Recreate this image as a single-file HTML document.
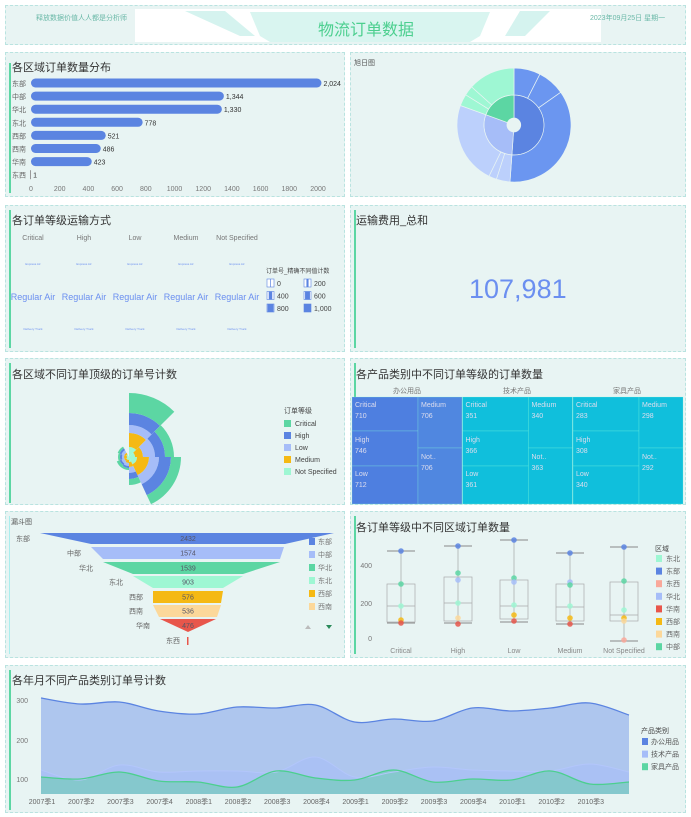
<!DOCTYPE html>
<html><head><meta charset="utf-8"><style>
*{margin:0;padding:0;box-sizing:border-box}
body{width:691px;height:817px;background:#fff;position:relative;overflow:hidden;font-family:"Liberation Sans","Noto Sans CJK SC",sans-serif;color:#444}
.p{position:absolute;background:#e8f4f3;border:1px dashed #b9e3e0}
.acc{position:absolute;left:3px;width:2px;background:#5cd6a3}
.t{position:absolute;font-size:11px;color:#333;white-space:nowrap}
svg{position:absolute;left:0;top:0}
</style></head><body>
<div class="p" style="left:5px;top:5px;width:681px;height:40px"></div>
<div style="position:absolute;left:135px;top:9px;width:466px;height:33px;background:#fff"></div>
<svg width="691" height="817">
<polygon points="250,12 490,12 480,36 470,42 270,42 260,36" fill="#bfeee6" opacity="0.6"/>
<polygon points="185,11 225,11 255,36 240,36" fill="#d5f3ef"/><polygon points="520,11 550,11 525,36 505,36" fill="#d5f3ef"/>
</svg>
<div class="t" style="left:36px;top:13px;font-size:7px;color:#6bb9a8">释放数据价值人人都是分析师</div>
<div class="t" style="left:590px;top:13px;font-size:7px;color:#6bb9a8">2023年09月25日 星期一</div>
<div class="t" style="left:318px;top:16px;font-size:16px;color:#4ccf8f">物流订单数据</div>

<div class="p" style="left:5px;top:52px;width:340px;height:145px"><div class="acc" style="top:10px;height:130px"></div></div>
<div class="p" style="left:350px;top:52px;width:336px;height:145px"></div>
<div class="p" style="left:5px;top:205px;width:340px;height:147px"><div class="acc" style="top:4px;height:138px"></div></div>
<div class="p" style="left:350px;top:205px;width:336px;height:147px"><div class="acc" style="top:4px;height:138px"></div></div>
<div class="p" style="left:5px;top:358px;width:340px;height:147px"><div class="acc" style="top:4px;height:140px"></div></div>
<div class="p" style="left:350px;top:358px;width:336px;height:147px"><div class="acc" style="top:4px;height:140px"></div></div>
<div class="p" style="left:5px;top:511px;width:340px;height:147px"><div class="acc" style="top:4px;height:138px;width:1px;background:#aee"></div></div>
<div class="p" style="left:350px;top:511px;width:336px;height:147px"><div class="acc" style="top:4px;height:138px"></div></div>
<div class="p" style="left:5px;top:665px;width:681px;height:148px"><div class="acc" style="top:4px;height:140px"></div></div>

<div class="t" style="left:12px;top:59px;font-size:11px">各区域订单数量分布</div>
<div class="t" style="left:354px;top:58px;font-size:7px;color:#555">旭日图</div>
<div class="t" style="left:12px;top:212px">各订单等级运输方式</div>
<div class="t" style="left:356px;top:212px">运输费用_总和</div>
<div class="t" style="left:469px;top:274px;font-size:27px;color:#6b8ff0">107,981</div>
<div class="t" style="left:12px;top:366px">各区域不同订单顶级的订单号计数</div>
<div class="t" style="left:356px;top:366px">各产品类别中不同订单等级的订单数量</div>
<div class="t" style="left:11px;top:517px;font-size:7px;color:#555">漏斗图</div>
<div class="t" style="left:356px;top:519px">各订单等级中不同区域订单数量</div>
<div class="t" style="left:12px;top:672px">各年月不同产品类别订单号计数</div>

<svg id="s" width="691" height="817" font-family="Liberation Sans, Noto Sans CJK SC, sans-serif"></svg>
<script>
var s=document.getElementById('s'),h='';
function T(x,y,t,sz,c,a){h+='<text x="'+x+'" y="'+y+'" font-size="'+(sz||7)+'" fill="'+(c||'#666')+'" text-anchor="'+(a||'start')+'">'+t+'</text>';}
function R(x,y,w,ht,c,e){h+='<rect x="'+x+'" y="'+y+'" width="'+w+'" height="'+ht+'" fill="'+c+'" '+(e||'')+'/>';}
var bl=['东部','中部','华北','东北','西部','西南','华南','东西'],bv=[2024,1344,1330,778,521,486,423,1];
bl.forEach(function(l,i){var y=83+i*13.1;T(12,y+3,l,7,'#666');var w=bv[i]*0.1435;if(w>2)R(31,y-4.5,w,9,'#5b84e1','rx="4.5"');else R(30,y-4.5,1,9,'#999');T(33+w,y+3,bv[i]>1?bv[i].toLocaleString():'1',7,'#333');});
for(var i=0;i<=10;i++)T(31+i*28.7,191,i*200,7,'#777','middle');
function arc(cx,cy,r0,r1,a0,a1,c,st){var f=function(r,a){a=(a-90)*Math.PI/180;return (cx+r*Math.cos(a)).toFixed(1)+','+(cy+r*Math.sin(a)).toFixed(1)};var lg=(a1-a0)>180?1:0;
h+='<path d="M'+f(r1,a0)+' A'+r1+','+r1+' 0 '+lg+' 1 '+f(r1,a1)+' L'+f(r0,a1)+' A'+r0+','+r0+' 0 '+lg+' 0 '+f(r0,a0)+'Z" fill="'+c+'" stroke="'+(st||'#e8f4f3')+'" stroke-width="0.7"/>';}
var cx=514,cy=125;
arc(cx,cy,7,30,0,184,'#5b84e1');arc(cx,cy,7,30,184,290,'#a6bdf8');arc(cx,cy,7,30,290,360,'#5cd6a3');
arc(cx,cy,30,57,0,27,'#6b96f0');arc(cx,cy,30,57,27,55,'#6b96f0');arc(cx,cy,30,57,55,184,'#6b96f0');
arc(cx,cy,30,57,184,198,'#bcd0fc');arc(cx,cy,30,57,198,206,'#bcd0fc');arc(cx,cy,30,57,206,290,'#bcd0fc');
arc(cx,cy,30,57,290,302,'#9ef7d3');arc(cx,cy,30,57,302,312,'#9ef7d3');arc(cx,cy,30,57,312,360,'#9ef7d3');
var lv=['Critical','High','Low','Medium','Not Specified'];
lv.forEach(function(l,i){var x=33+i*51;T(x,240,l,7,'#777','middle');T(x,265,'Express Air',3,'#6b8ff0','middle');T(x,300,'Regular Air',9,'#6b8ff0','middle');T(x,330,'Delivery Truck',3,'#6b8ff0','middle');});
T(266,273,'订单号_精确不同值计数',6,'#444');
[['0',0.1],['200',0.3],['400',0.5],['600',0.7],['800',0.85],['1,000',1]].forEach(function(o,i){var x=267+(i%2)*37,y=279+Math.floor(i/2)*12.5;R(x,y,7,8,'#fff','stroke="#5b84e1" stroke-width="0.6"');R(x+3.5-3.5*o[1],y,7*o[1],8,'#5b84e1');T(x+10,y+7,o[0],7,'#444');});
var rc=['#9ef7d3','#f5b914','#a6bdf8','#5b84e1','#5cd6a3'];
var rs=[[10,14,8,12,20],[6,8,12,10,9],[8,12,10,12,10],[5,5,6,6,6],[3,3,3,2,2],[3,2,3,2,3],[2,3,2,2,2],[3,2,3,2,2]];
var ang=[[0,45],[45,90],[90,155],[155,180],[180,215],[215,250],[250,290],[290,330]];
rs.forEach(function(st,i){var r=0;st.forEach(function(v,j){arc(129,457,r,r+v,ang[i][0],ang[i][1],rc[j],'none');r+=v;});});
T(284,413,'订单等级',7,'#444');
['Critical','High','Low','Medium','Not Specified'].forEach(function(l,i){var c=['#5cd6a3','#5b84e1','#a6bdf8','#f5b914','#9ef7d3'][i];R(284,420+i*12,7,7,c);T(295,426+i*12,l,7,'#444');});
['办公用品','技术产品','家具产品'].forEach(function(l,i){T(407+i*110,393,l,7,'#777','middle');var x=352+i*110.5,c=i==0?'#5087e0':'#10bfdc',c2=i==0?'#4e7fe0':'#10bfdc';
var d=[[710,706,746,706,712],[351,340,366,363,361],[283,298,308,292,340]][i];
var st='stroke="#8fd" stroke-opacity="0.4" stroke-width="0.6"';
R(x,397,66,34,c2,st);R(x,431,66,35,c2,st);R(x,466,66,38,c2,st);R(x+66,397,44,51,c,st);R(x+66,448,44,56,c,st);
var tc='#dde';T(x+3,407,'Critical',7,tc);T(x+3,418,d[0],7,tc);T(x+69,407,'Medium',7,tc);T(x+69,418,d[1],7,tc);T(x+3,442,'High',7,tc);T(x+3,453,d[2],7,tc);T(x+69,459,'Not..',7,tc);T(x+69,470,d[3],7,tc);T(x+3,476,'Low',7,tc);T(x+3,487,d[4],7,tc);});
var fr=[[533,544,40,334,91,285,'#5b84e1','东部',2432],[547,559,91,284,103,280,'#a6bdf8','中部',1574],[562,574,103,280,133,243,'#5cd6a3','华北',1539],[576,588,133,243,153,223,'#9ef7d3','东北',903],[591,603,153,223,153,221,'#f5b914','西部',576],[605,617,153,221,159,217,'#fcd89a','西南',536],[619,632,160,216,188,188,'#e8564b','华南',476]];
fr.forEach(function(f){h+='<polygon points="'+f[2]+','+f[0]+' '+f[3]+','+f[0]+' '+f[5]+','+f[1]+' '+f[4]+','+f[1]+'" fill="'+f[6]+'"/>';var cy=(f[0]+f[1])/2+2.5;T(188,cy,f[8],7,'#556','middle');T(f[2]-10,cy,f[7],7,'#666','end');});
T(180,643,'东西',7,'#666','end');R(187,637,1.5,8,'#e8564b');
['东部','中部','华北','东北','西部','西南'].forEach(function(l,i){R(309,538+i*13,6,7,fr[i][6]);T(318,544+i*13,l,7,'#777');});
h+='<polygon points="305,629 308,625 311,629" fill="#bbb"/><polygon points="326,625 332,625 329,629" fill="#2a8a5a"/>';
T(372,568,'400',7,'#777','end');T(372,606,'200',7,'#777','end');T(372,641,'0',7,'#777','end');
var bx=[[401,551,584,606,622,623],[458,546,577,603,621,623],[514,540,580,606,619,622],[570,553,584,607,621,624],[624,547,582,615,621,641]];
var dots=[[[551,'#5b84e1'],[584,'#5cd6a3'],[606,'#9ef7d3'],[620,'#f5b914'],[623,'#e8564b']],[[546,'#5b84e1'],[573,'#5cd6a3'],[580,'#a6bdf8'],[603,'#9ef7d3'],[618,'#fcd89a'],[624,'#e8564b']],[[540,'#5b84e1'],[578,'#5cd6a3'],[582,'#a6bdf8'],[605,'#9ef7d3'],[615,'#f5b914'],[621,'#e8564b']],[[553,'#5b84e1'],[582,'#a6bdf8'],[585,'#5cd6a3'],[606,'#9ef7d3'],[618,'#f5b914'],[624,'#e8564b']],[[547,'#5b84e1'],[581,'#5cd6a3'],[610,'#9ef7d3'],[618,'#f5b914'],[621,'#fcd89a'],[640,'#f9a89a']]];
bx.forEach(function(b,i){var x=b[0];h+='<line x1="'+x+'" y1="'+b[1]+'" x2="'+x+'" y2="'+b[5]+'" stroke="#999" stroke-width="0.6"/>';
h+='<line x1="'+(x-14)+'" y1="'+b[1]+'" x2="'+(x+14)+'" y2="'+b[1]+'" stroke="#888" stroke-width="1"/><line x1="'+(x-14)+'" y1="'+b[5]+'" x2="'+(x+14)+'" y2="'+b[5]+'" stroke="#888" stroke-width="1"/>';
R(x-14,b[2],28,b[4]-b[2],'none','stroke="#aaa" stroke-width="0.7"');h+='<line x1="'+(x-14)+'" y1="'+b[3]+'" x2="'+(x+14)+'" y2="'+b[3]+'" stroke="#aaa" stroke-width="0.8"/>';
dots[i].forEach(function(d){h+='<circle cx="'+x+'" cy="'+d[0]+'" r="2.8" fill="'+d[1]+'" opacity="0.85"/>';});T(x,653,lv[i],7,'#888','middle');});
T(655,551,'区域',7,'#444');
[['东北','#9ef7d3'],['东部','#5b84e1'],['东西','#f9a89a'],['华北','#a6bdf8'],['华南','#e8564b'],['西部','#f5b914'],['西南','#fcd89a'],['中部','#5cd6a3']].forEach(function(o,i){R(656,555+i*12.6,6,7,o[1]);T(666,561+i*12.6,o[0],7,'#666');});
T(28,703,'300',7,'#777','end');T(28,743,'200',7,'#777','end');T(28,782,'100',7,'#777','end');
var q=['2007季1','2007季2','2007季3','2007季4','2008季1','2008季2','2008季3','2008季4','2009季1','2009季2','2009季3','2009季4','2010季1','2010季2','2010季3'];
q.forEach(function(l,i){T(42+i*39.2,804,l,7,'#666','middle');});
var A=[698,704,702,711,714,707,708,705,722,719,721,708,711,708,703,715],B=[770,780,765,772,771,771,772,757,777,772,767,770,771,771,764,772],C=[777,779,772,781,782,787,771,778,780,770,782,779,780,771,784,782];
function P(a){var p=a.map(function(y,i){return [41+i*39.2,y]});var d='M'+p[0][0]+','+p[0][1];for(var i=0;i<p.length-1;i++){var p0=p[Math.max(i-1,0)],p1=p[i],p2=p[i+1],p3=p[Math.min(i+2,p.length-1)];d+=' C'+(p1[0]+(p2[0]-p0[0])/6).toFixed(1)+','+(p1[1]+(p2[1]-p0[1])/6).toFixed(1)+' '+(p2[0]-(p3[0]-p1[0])/6).toFixed(1)+','+(p2[1]-(p3[1]-p1[1])/6).toFixed(1)+' '+p2[0].toFixed(1)+','+p2[1];}return d;}
var end=' L629,794 L41,794 Z';
h+='<path d="'+P(A)+end+'" fill="#aec6ee"/>';h+='<path d="'+P(B)+end+'" fill="#a8bff7" opacity="0.7"/>';h+='<path d="'+P(C)+end+'" fill="#7fc9c6" opacity="0.85"/>';
h+='<path d="'+P(A)+'" fill="none" stroke="#5b84e1" stroke-width="1.3"/><path d="'+P(B)+'" fill="none" stroke="#b3c6fb" stroke-width="1"/><path d="'+P(C)+'" fill="none" stroke="#4ccf8f" stroke-width="1.3"/>';
T(641,733,'产品类别',7,'#444');
[['办公用品','#5b84e1'],['技术产品','#a6bdf8'],['家具产品','#5cd6a3']].forEach(function(o,i){R(642,738+i*12.6,6,7,o[1]);T(651,744+i*12.6,o[0],7,'#555');});
s.innerHTML=h;
</script>
</body></html>
